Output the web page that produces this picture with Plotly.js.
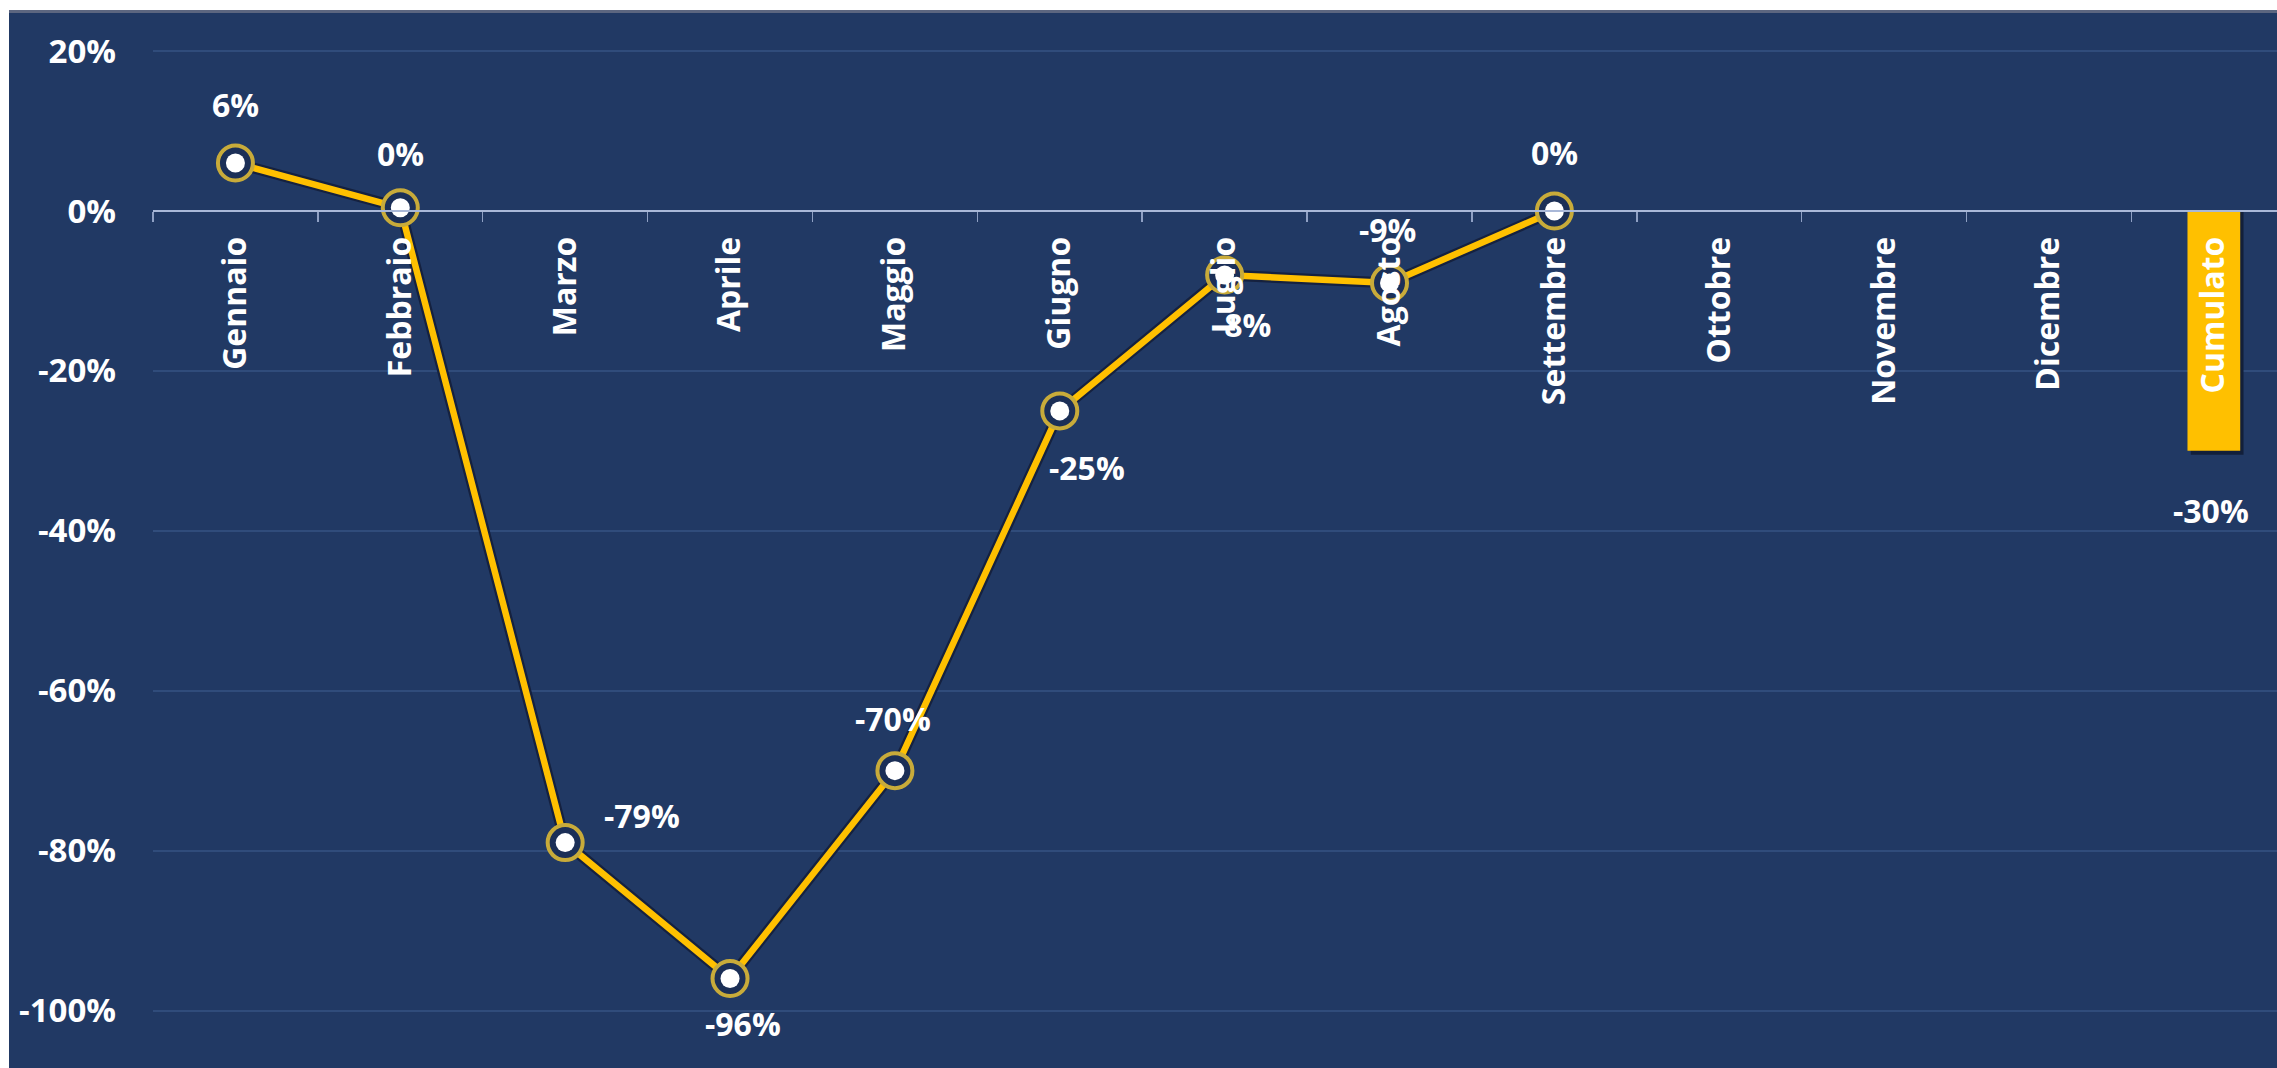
<!DOCTYPE html>
<html>
<head>
<meta charset="utf-8">
<script src="https://cdn.plot.ly/plotly-3.0.1.min.js"></script>
<style>
  html, body { margin: 0; padding: 0; background: #ffffff; width: 2277px; height: 1068px; overflow: hidden; }
  #chart { position: absolute; left: 9px; top: 10px; width: 2268px; height: 1058px; }
</style>
</head>
<body>
<div id="chart"></div>
<script>
// ---- Data ----
const months = ['Gennaio','Febbraio','Marzo','Aprile','Maggio','Giugno','Luglio','Agosto','Settembre','Ottobre','Novembre','Dicembre','Cumulato'];
const trendMonths = ['Gennaio','Febbraio','Marzo','Aprile','Maggio','Giugno','Luglio','Agosto','Settembre'];
const trendValues = [6, 0.4, -79, -96, -70, -25, -8, -9, 0];
const cumulatoCategory = ['Cumulato'];
const cumulatoValue = [-30];
const yTickValues = [20, 0, -20, -40, -60, -80, -100];

// ---- Style (label offsets in px) ----
const labelOffsets = [[0,59],[0,54],[77,27],[13,-45],[-2,52],[27,-57],[18,-50],[-2,53],[0,59]];
const cumulatoOffset = [-3,-60];

const NAVY = '#213964';
const GOLD = '#FFC000';
const FONT = 'Open Sans, sans-serif';
const fmt = v => Math.round(v) + '%';

const traces = [
  // Bar shadow
  { type: 'bar', x: cumulatoCategory, y: cumulatoValue.map(v => v - 0.5), base: 0,
    width: 0.32, offset: -0.14, marker: { color: '#121f3a' }, hoverinfo: 'skip', showlegend: false },
  // Bar
  { type: 'bar', x: cumulatoCategory, y: cumulatoValue,
    width: 0.32, offset: -0.16, marker: { color: GOLD }, showlegend: false },
  // Line dark outline
  { type: 'scatter', mode: 'lines', x: trendMonths, y: trendValues,
    line: { color: '#15213f', width: 11 }, hoverinfo: 'skip', showlegend: false },
  // Line gold
  { type: 'scatter', mode: 'lines', x: trendMonths, y: trendValues,
    line: { color: GOLD, width: 6.5 }, showlegend: false },
  // Ring markers
  { type: 'scatter', mode: 'markers', x: trendMonths, y: trendValues,
    marker: { symbol: 'circle', size: 35, color: '#1b2f57', line: { color: '#C8AB3A', width: 4 } },
    hoverinfo: 'skip', showlegend: false },
  // White dots
  { type: 'scatter', mode: 'markers', x: trendMonths, y: trendValues,
    marker: { symbol: 'circle', size: 19, color: '#ffffff' }, showlegend: false }
];

const annotations = trendMonths.map((m, i) => ({
  x: m, y: trendValues[i], xref: 'x', yref: 'y',
  text: fmt(trendValues[i]), showarrow: false,
  xshift: labelOffsets[i][0], yshift: labelOffsets[i][1],
  font: { family: FONT, size: 32, color: '#ffffff', weight: 700 }
}));
annotations.push({
  x: cumulatoCategory[0], y: cumulatoValue[0], xref: 'x', yref: 'y',
  text: fmt(cumulatoValue[0]), showarrow: false,
  xshift: cumulatoOffset[0], yshift: cumulatoOffset[1],
  font: { family: FONT, size: 32, color: '#ffffff', weight: 700 }
});

const yTop = 22.64, yBot = -104.69;

const layout = {
  width: 2268, height: 1058,
  margin: { l: 144, r: 0, t: 20, b: 20 },
  paper_bgcolor: NAVY, plot_bgcolor: NAVY,
  barmode: 'overlay',
  showlegend: false,
  font: { family: FONT, color: '#ffffff' },
  xaxis: {
    type: 'category', categoryorder: 'array', categoryarray: months,
    range: [-0.5, 12.383],
    anchor: 'free', position: (0 - yBot) / (yTop - yBot),
    showline: true, linecolor: '#A9B8D8', linewidth: 2,
    ticks: 'outside', tickson: 'boundaries', ticklen: 10, tickwidth: 1.5, tickcolor: '#8FA0C4',
    tickangle: -90, ticklabelstandoff: 12,
    tickfont: { family: FONT, size: 32, color: '#ffffff', weight: 700 },
    showgrid: false, zeroline: false, fixedrange: true
  },
  yaxis: {
    range: [yBot, yTop],
    tickvals: yTickValues, ticktext: yTickValues.map(v => v + '%'),
    tickfont: { family: FONT, size: 33, color: '#ffffff', weight: 700 },
    ticks: '', ticklabelstandoff: 36,
    showgrid: true, gridcolor: '#304c7b', gridwidth: 2,
    zeroline: false, showline: false, fixedrange: true
  },
  annotations: annotations,
  shapes: [
    { type: 'line', xref: 'paper', yref: 'paper', x0: -0.1, x1: 1.01, y0: 1 + 18.5/1018, y1: 1 + 18.5/1018,
      line: { color: '#5c6680', width: 3 } }
  ]
};

Plotly.newPlot('chart', traces, layout, { displayModeBar: false, staticPlot: true });
</script>
</body>
</html>
